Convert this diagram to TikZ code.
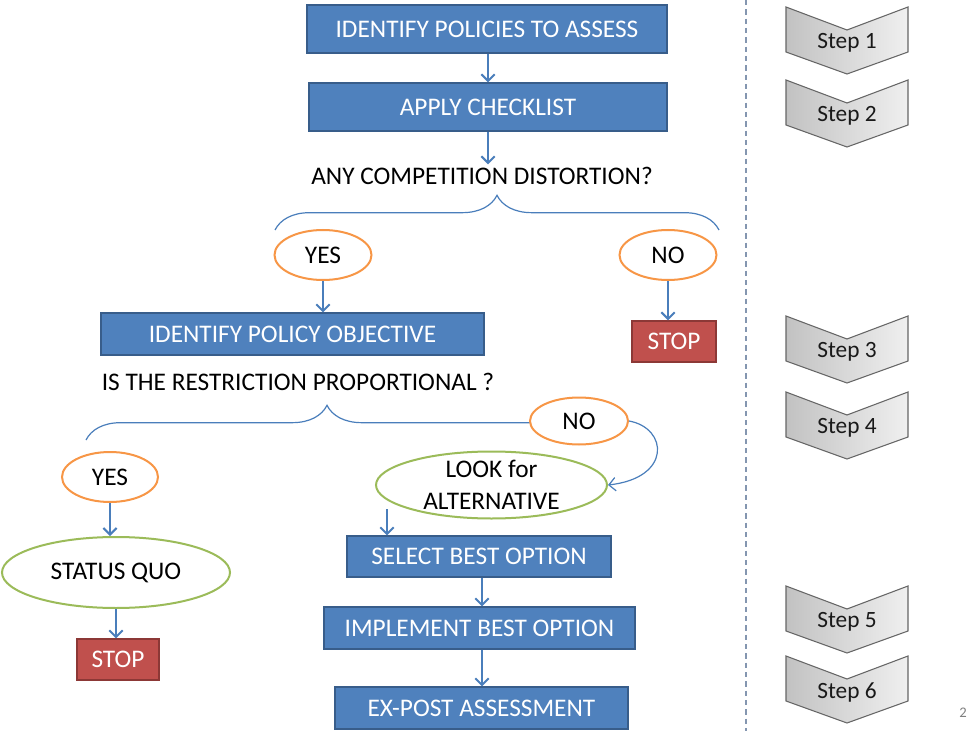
\documentclass[tikz,border=0pt]{standalone}
\usepackage{fontspec}
\setmainfont{Carlito}
\usetikzlibrary{shapes.geometric,arrows.meta,decorations.pathreplacing,calc}
\definecolor{boxblue}{HTML}{4F81BD}
\definecolor{boxborder}{HTML}{385D8A}
\definecolor{arrblue}{HTML}{4A7EBB}
\definecolor{ornge}{HTML}{F79646}
\definecolor{grn}{HTML}{9BBB59}
\definecolor{stopred}{HTML}{C0504D}
\definecolor{stopborder}{HTML}{8C3836}
\definecolor{dashcol}{HTML}{8496B0}
\tikzset{
  bluebox/.style={rectangle, fill=boxblue, draw=boxborder, line width=1pt, text=white, font=\fontsize{19}{22}\selectfont, inner sep=0pt},
  stopbox/.style={rectangle, fill=stopred, draw=stopborder, line width=1pt, text=white, font=\fontsize{19}{22}\selectfont, inner sep=0pt},
  yesno/.style={ellipse, fill=white, draw=ornge, line width=1.5pt, font=\fontsize{19}{22}\selectfont, inner sep=0pt},
  greenell/.style={ellipse, fill=white, draw=grn, line width=1.5pt, font=\fontsize{19}{22}\selectfont, inner sep=0pt},
  question/.style={font=\fontsize{19}{22}\selectfont, inner sep=2pt},
  arr/.style={draw=arrblue, line width=1.5pt, -{Straight Barb[length=5pt,width=10pt]}},
  thinarr/.style={draw=arrblue, line width=0.9pt, -{Straight Barb[length=5pt,width=10pt]}},
  bracepath/.style={draw=arrblue, line width=0.9pt, decorate, decoration={brace, amplitude=26pt}},
  chev/.style={draw=gray!80!black, line width=0.8pt, left color=black!24, right color=black!6},
  steptext/.style={font=\fontsize{17.5}{20}\selectfont, text=black!90, inner sep=0pt}
}
\begin{document}
\begin{tikzpicture}[x=0.75pt, y=-0.75pt]
\useasboundingbox (0,0) rectangle (971,731);

% dashed separator
\draw[dashcol, line width=1.5pt, dash pattern=on 4pt off 3pt] (746,0) -- (746,731);

% top flow
\node[bluebox, minimum width=270pt, minimum height=36pt] (box1) at (487,29) {IDENTIFY POLICIES TO ASSESS};
\node[bluebox, minimum width=268.5pt, minimum height=36pt] (box2) at (488,107) {APPLY CHECKLIST};
\node[question] (q1) at (482,176) {ANY COMPETITION DISTORTION?};
\draw[arr] (box2.north |- box1.south) -- (box2.north);
\draw[arr] (box2.south) -- (box2.south |- q1.north);

% brace 1
\draw[bracepath] (275,230) -- (719,230);

\node[yesno, minimum width=72.75pt, minimum height=37.5pt] (yes1) at (323,255) {YES};
\node[yesno, minimum width=72.75pt, minimum height=37.5pt] (no1) at (668,255) {NO};

\node[bluebox, minimum width=287.25pt, minimum height=31.5pt] (ipo) at (292.5,334) {IDENTIFY POLICY OBJECTIVE};
\node[stopbox, minimum width=63pt, minimum height=30.75pt] (stop1) at (674,341.5) {STOP};
\draw[arr] (yes1.south) -- (yes1.south |- ipo.north);
\draw[arr] (no1.south) -- (no1.south |- stop1.north);

\node[question] (q2) at (298,382) {IS THE RESTRICTION PROPORTIONAL ?};

% brace 2
\draw[bracepath] (86,440) -- (568,440);

\node[yesno, minimum width=73.5pt, minimum height=35.25pt] (no2) at (579,421) {NO};
\node[yesno, minimum width=72pt, minimum height=37.5pt] (yes2) at (110,477) {YES};

\node[greenell, minimum width=173.25pt, minimum height=50.25pt] (look) at (491.5,485) {};
\node[font=\fontsize{19}{24}\selectfont, align=center, inner sep=0pt] (looktext) at (look.center) {LOOK for\\ALTERNATIVE};
\draw[thinarr] (no2.east) .. controls (668,428) and (672,478) .. (look.east);

\node[greenell, minimum width=171pt, minimum height=53.25pt] (sq) at (116,572.5) {STATUS QUO};
\node[stopbox, minimum width=61.5pt, minimum height=30.75pt] (stop2) at (118,659.5) {STOP};
\draw[arr] (yes2.south) -- (yes2.south |- sq.north);
\draw[arr] (sq.south) -- (sq.south |- stop2.north);

\node[bluebox, minimum width=198pt, minimum height=30.75pt] (select) at (479,556.5) {SELECT BEST OPTION};
\node[bluebox, minimum width=233.25pt, minimum height=31.5pt] (impl) at (479.5,628) {IMPLEMENT BEST OPTION};
\node[bluebox, minimum width=219.75pt, minimum height=31.5pt] (expost) at (481.5,708) {EX-POST ASSESSMENT};

\coordinate (lk) at (387,509);
\draw[arr] (lk) -- (lk |- select.north);
\coordinate (s1) at (482,0);
\draw[arr] (s1 |- select.south) -- (s1 |- impl.north);
\draw[arr] (s1 |- impl.south) -- (s1 |- expost.north);

% steps
\path[chev] (786,7) -- (847,30) -- (908,7) -- (908,52) -- (847,74) -- (786,52) -- cycle;
\node[steptext] (st1) at (847,43) {Step 1};
\path[chev] (786,80) -- (847,103) -- (908,80) -- (908,125) -- (847,147) -- (786,125) -- cycle;
\node[steptext] (st2) at (847,116) {Step 2};
\path[chev] (786,316) -- (847,339) -- (908,316) -- (908,361) -- (847,383) -- (786,361) -- cycle;
\node[steptext] (st3) at (847,352) {Step 3};
\path[chev] (786,392) -- (847,415) -- (908,392) -- (908,437) -- (847,459) -- (786,437) -- cycle;
\node[steptext] (st4) at (847,428) {Step 4};
\path[chev] (786,586) -- (847,609) -- (908,586) -- (908,631) -- (847,653) -- (786,631) -- cycle;
\node[steptext] (st5) at (847,622) {Step 5};
\path[chev] (786,656) -- (847,679) -- (908,656) -- (908,701) -- (847,723) -- (786,701) -- cycle;
\node[steptext] (st6) at (847,692) {Step 6};

\node[font=\fontsize{11}{13}\selectfont, text=black!50, inner sep=0pt] (pnum) at (963,713) {2};
\end{tikzpicture}
\end{document}
